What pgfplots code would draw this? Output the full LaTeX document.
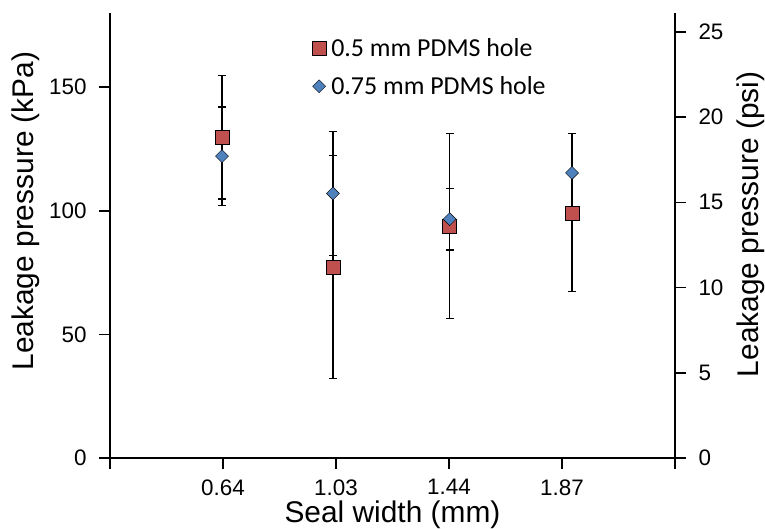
\documentclass[border=0pt]{standalone}
\usepackage{pgfplots}
\usepackage{pgfplotstable}
\pgfplotsset{compat=1.18}
\usepackage{fontspec}
\setmainfont{Liberation Sans}
\newfontfamily\legfont{Carlito}
\definecolor{myred}{RGB}{192,80,77}
\definecolor{myblue}{RGB}{79,129,189}
\pgfplotstableread{
x y e
0.64 129.8 25
1.03 77.3 45
1.44 93.8 37.5
1.87 99.2 32
}\redtab
\pgfplotstableread{
x y e
0.64 122.1 19.9
1.03 107 25
1.44 96.6 12.5
1.87 115.3 0
}\bluetab
\pgfplotsset{myaxis/.style={scale only axis, width=565bp, height=445bp,
  xmin=0.2464, xmax=2.2319, ymin=0, tick align=outside, major tick length=11bp,
  axis line style={line width=1.6bp, black},
  tick style={black, line width=1.6bp},
  tick label style={font=\fontsize{22.5}{26}\selectfont},
  label style={font=\fontsize{30}{34}\selectfont},
  /pgf/number format/assume math mode=true, clip=false}}
\begin{document}
\begin{tikzpicture}
\useasboundingbox (-110bp,-71bp) rectangle (655bp,458bp);
\begin{axis}[myaxis, ymax=180,
  axis x line*=bottom, axis y line*=left,
  xtick={0.2464,0.6435,1.0406,1.4377,1.8348,2.2319},
  xticklabels={,0.64,1.03,1.44,1.87,},
  ytick={0,50,100,150},
  xticklabel style={yshift=-7bp},
  yticklabel style={xshift=-9bp},
  xlabel={Seal width (mm)}, ylabel={Leakage pressure (kPa)},
  xlabel style={at={(axis description cs:0.5,0)}, anchor=center, yshift=-57bp},
  ylabel style={at={(axis description cs:0,0.555)}, anchor=center, yshift=84bp},
  legend style={at={(axis description cs:0.357,0.9485)}, anchor=north west, draw=none, fill=none,
    font=\legfont\fontsize{26}{30}\selectfont, row sep=15bp, inner sep=0pt},
  legend cell align=left]
\addplot[only marks, mark=none, forget plot, error bars/.cd, y dir=both, y explicit,
  error bar style={black, line width=1.2bp},
  error mark options={black, rotate=90, mark size=4bp, line width=1.2bp}]
  table[x=x, y=y, y error=e] {\redtab};
\addplot[only marks, mark=none, forget plot, error bars/.cd, y dir=both, y explicit,
  error bar style={black, line width=1.2bp},
  error mark options={black, rotate=90, mark size=4bp, line width=1.2bp}]
  table[x=x, y=y, y error=e] {\bluetab};
\addplot[only marks, mark=square*, mark size=7bp, mark options={draw=none, fill=myred},
  legend image code/.code={\path (0bp,0bp) (17bp,0bp); \draw plot coordinates {(7bp,0bp)};}]
  table[x=x, y=y] {\redtab};
\addlegendentry{0.5 mm PDMS hole}
\addplot[only marks, mark=square*, mark size=4.6bp, mark options={draw=none, fill=myblue, rotate=45},
  legend image code/.code={\path (0bp,0bp) (17bp,0bp); \draw plot coordinates {(7bp,0bp)};}]
  table[x=x, y=y] {\bluetab};
\addlegendentry{0.75 mm PDMS hole}
\end{axis}
\begin{axis}[myaxis, ymax=26.107,
  axis x line=none, axis y line*=right,
  ytick={0,5,10,15,20,25},
  yticklabel style={xshift=9bp},
  ylabel={Leakage pressure (psi)},
  ylabel style={at={(axis description cs:1,0.525)}, anchor=center, yshift=-76bp}]
\end{axis}
\end{tikzpicture}
\end{document}
